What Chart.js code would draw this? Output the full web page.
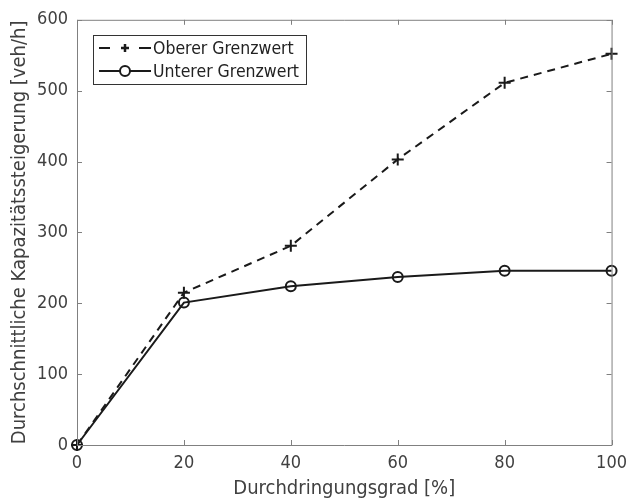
<!DOCTYPE html>
<html>
<head>
<meta charset="UTF-8">
<title>Kapazitätssteigerung</title>
<script src="https://cdn.jsdelivr.net/npm/chart.js"></script>
<style>
  html, body { margin: 0; padding: 0; background: #fff; }
  #wrap { width: 635px; height: 501px; }
</style>
</head>
<body>
<div id="wrap"><canvas id="chart" width="635" height="501"></canvas></div>
<script>
// Daten
const durchdringung = [0, 20, 40, 60, 80, 100];
const obererGrenzwert = [0, 215, 281, 403, 511, 552];
const untererGrenzwert = [0, 201, 224, 237, 246, 246];

const fontFamily = '"DejaVu Sans Condensed", "DejaVu Sans", sans-serif';
const textColor = '#404040';
const axisColor = '#808080';
const lineColor = '#1a1a1a';

function pts(xs, ys) {
    return xs.map((x, i) => ({ x: x, y: ys[i] }));
}

// Rahmen oben/rechts und nach innen zeigende Ticks wie bei MATLAB
const framePlugin = {
    id: 'frame',
    afterDraw(chart) {
        const ctx = chart.ctx;
        const a = chart.chartArea;
        const xs = chart.scales.x, ys = chart.scales.y;
        const len = 5;
        ctx.save();
        ctx.strokeStyle = axisColor;
        ctx.lineWidth = 1;
        ctx.beginPath();
        ctx.moveTo(a.left + 0.5, a.bottom + 0.5);
        ctx.lineTo(a.left + 0.5, a.top + 0.5);
        ctx.lineTo(a.right + 0.5, a.top + 0.5);
        ctx.lineTo(a.right + 0.5, a.bottom + 0.5);
        ctx.lineTo(a.left + 0.5, a.bottom + 0.5);
        xs.ticks.forEach(t => {
            const px = Math.round(xs.getPixelForValue(t.value)) + 0.5;
            ctx.moveTo(px, a.bottom); ctx.lineTo(px, a.bottom - len);
            ctx.moveTo(px, a.top); ctx.lineTo(px, a.top + len);
        });
        ys.ticks.forEach(t => {
            const py = Math.round(ys.getPixelForValue(t.value)) + 0.5;
            ctx.moveTo(a.left, py); ctx.lineTo(a.left + len, py);
            ctx.moveTo(a.right, py); ctx.lineTo(a.right - len, py);
        });
        ctx.stroke();
        ctx.restore();
    }
};

// Legende im MATLAB-Stil
const legendPlugin = {
    id: 'matlabLegend',
    afterDraw(chart) {
        const ctx = chart.ctx;
        const x0 = 93, y0 = 35, w = 213, h = 49;
        ctx.save();
        ctx.fillStyle = '#fff';
        ctx.fillRect(x0, y0, w, h);
        ctx.strokeStyle = '#333';
        ctx.lineWidth = 1;
        ctx.strokeRect(x0 + 0.5, y0 + 0.5, w, h);
        ctx.font = '17.5px ' + fontFamily;
        ctx.textBaseline = 'middle';
        chart.data.datasets.forEach((ds, i) => {
            const cy = y0 + 13 + i * 23;
            const mx = 125;
            ctx.strokeStyle = ds.borderColor;
            ctx.lineWidth = ds.borderWidth;
            ctx.beginPath();
            if (ds.borderDash) {
                ctx.moveTo(99, cy); ctx.lineTo(110, cy);
                ctx.moveTo(139, cy); ctx.lineTo(151, cy);
            } else {
                ctx.moveTo(99, cy); ctx.lineTo(151, cy);
            }
            ctx.stroke();
            ctx.beginPath();
            if (ds.pointStyle === 'cross') {
                ctx.lineWidth = 2.5;
                ctx.moveTo(mx - 4, cy); ctx.lineTo(mx + 4, cy);
                ctx.moveTo(mx, cy - 4); ctx.lineTo(mx, cy + 4);
            } else {
                ctx.fillStyle = '#fff';
                ctx.arc(mx, cy, 5, 0, Math.PI * 2);
                ctx.fill();
            }
            ctx.stroke();
            ctx.fillStyle = '#222';
            ctx.fillText(ds.label, 153, cy + 1);
        });
        ctx.restore();
    }
};

new Chart(document.getElementById('chart'), {
    type: 'line',
    data: {
        datasets: [{
            label: 'Oberer Grenzwert',
            data: pts(durchdringung, obererGrenzwert),
            borderColor: lineColor,
            borderWidth: 2,
            borderDash: [8, 6],
            pointStyle: 'cross',
            pointRadius: 6,
            pointBorderWidth: 2,
            pointBorderColor: lineColor,
            fill: false,
            tension: 0,
            clip: false
        }, {
            label: 'Unterer Grenzwert',
            data: pts(durchdringung, untererGrenzwert),
            borderColor: lineColor,
            borderWidth: 2,
            pointStyle: 'circle',
            pointRadius: 5,
            pointBorderWidth: 2,
            pointBorderColor: lineColor,
            pointBackgroundColor: 'rgba(255,255,255,0)',
            fill: false,
            tension: 0,
            clip: false
        }]
    },
    options: {
        responsive: false,
        animation: false,
        layout: { padding: { top: 19, right: 18, left: 0, bottom: 0 } },
        plugins: {
            legend: { display: false },
            tooltip: { enabled: false }
        },
        scales: {
            x: {
                type: 'linear',
                min: 0, max: 100,
                afterFit(scale) { scale.height = 56; },
                ticks: { stepSize: 20, color: textColor, padding: 8, font: { family: fontFamily, size: 18 } },
                grid: { display: false, drawTicks: false },
                border: { display: false },
                title: { display: true, text: 'Durchdringungsgrad [%]', color: textColor,
                         font: { family: fontFamily, size: 20 }, padding: { top: 0, bottom: 0 } }
            },
            y: {
                min: 0, max: 600,
                afterFit(scale) { scale.width = 77; },
                ticks: { stepSize: 100, color: textColor, padding: 9, font: { family: fontFamily, size: 18 } },
                grid: { display: false, drawTicks: false },
                border: { display: false },
                title: { display: true, text: 'Durchschnittliche Kapazitätssteigerung [veh/h]', color: textColor,
                         font: { family: fontFamily, size: 20 }, padding: { top: 8, bottom: 0 } }
            }
        }
    },
    plugins: [framePlugin, legendPlugin]
});
</script>
</body>
</html>
